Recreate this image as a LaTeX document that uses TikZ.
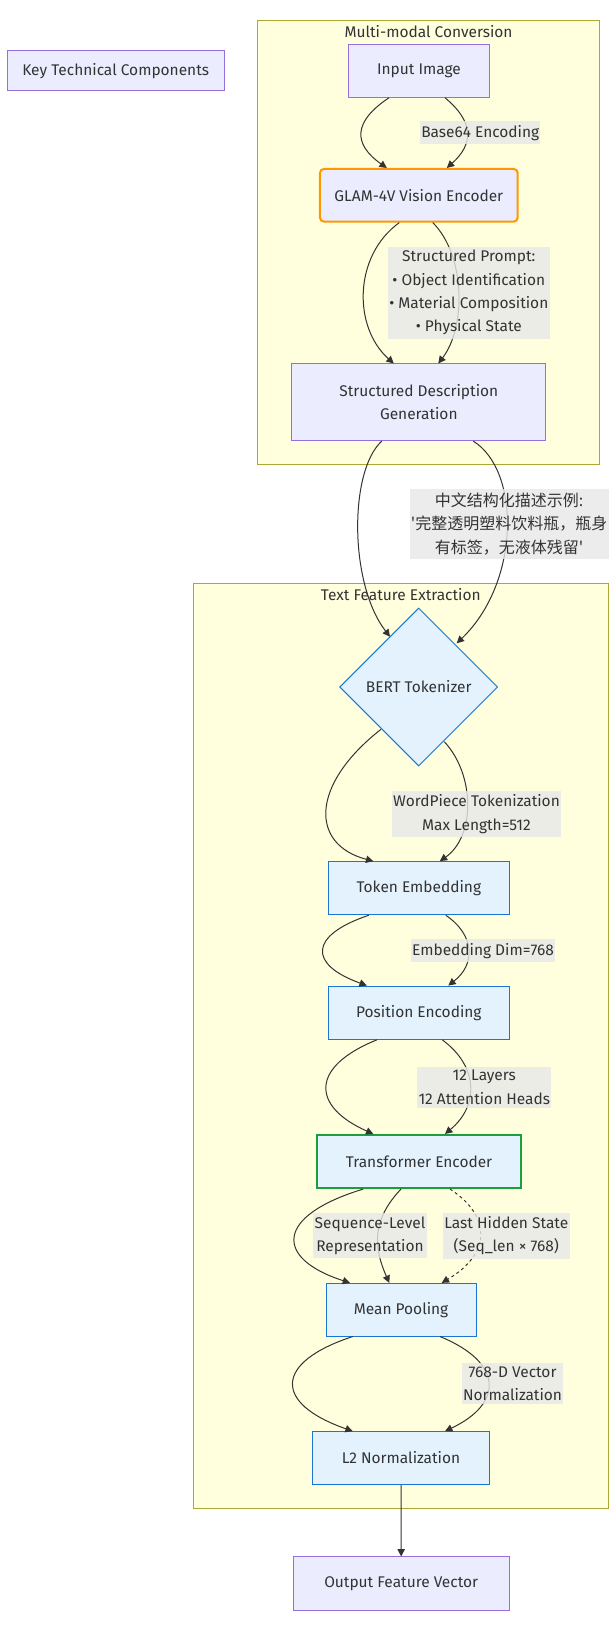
\documentclass[tikz,border=0pt]{standalone}
\usepackage{fontspec}
\setmainfont{Fira Sans}
\newfontfamily\cjk{Noto Sans CJK SC}
\usetikzlibrary{shapes.geometric,arrows.meta,calc}
\definecolor{txt}{HTML}{333333}
\definecolor{nodefill}{HTML}{ECECFF}
\definecolor{nodeline}{HTML}{9370DB}
\definecolor{bluefill}{HTML}{E3F2FD}
\definecolor{blueline}{HTML}{1976D2}
\definecolor{clusterfill}{HTML}{FFFFDE}
\definecolor{clusterline}{HTML}{AAAA33}
\definecolor{labelfill}{HTML}{E8E8E8}
\definecolor{orangeline}{HTML}{FF9800}
\definecolor{greenline}{HTML}{1B9E3E}
\tikzset{
  every node/.style={text=txt, font=\fontsize{11.6}{17.5}\selectfont},
  box/.style={draw=nodeline, fill=nodefill, line width=0.75pt, inner sep=0pt, align=center},
  bluebox/.style={box, draw=blueline, fill=bluefill},
  decision/.style={bluebox, diamond, aspect=1, minimum width=118.5pt, minimum height=118.5pt},
  cluster/.style={draw=clusterline, fill=clusterfill, line width=0.75pt, inner sep=0pt},
  edgelabel/.style={fill=labelfill, fill opacity=0.8, text opacity=1, align=center, inner xsep=1pt, inner ysep=2.75pt},
  flow/.style={draw=txt, line width=0.75pt, -{Triangle[length=5.5pt,width=5.5pt]}},
}
\begin{document}
\begin{tikzpicture}[x=0.75pt,y=-0.75pt]
\fill[white] (0,0) rectangle (616,1630);
\useasboundingbox (0,0) rectangle (616,1630);
\node (mmc) [cluster, minimum width=256.2pt, minimum height=333.2pt] at (428.5,242.2) {};
\node (mmctitle) at ($(mmc.north)+(0,11.7)$) {Multi-modal Conversion};
\node (tfe) [cluster, minimum width=311.3pt, minimum height=693.8pt] at (400.8,1045.8) {};
\node (tfetitle) at ($(tfe.north)+(0,11.4)$) {Text Feature Extraction};
\node (key) [box, minimum width=162.5pt, minimum height=29.8pt] at (115.7,70.8) {Key Technical Components};
\node (in) [box, minimum width=105.8pt, minimum height=39.8pt] at (419,70.7) {Input Image};
\node (glam) [box, draw=orangeline, line width=1.5pt, rounded corners=3pt, minimum width=148.3pt, minimum height=39.5pt] at (418.8,195.3) {GLAM-4V Vision Encoder};
\node (sdg) [box, minimum width=190.5pt, minimum height=57.5pt] at (418.8,402.3) {Structured Description\\Generation};
\node (bert) [decision] at (418.7,687) {BERT Tokenizer};
\node (tok) [bluebox, minimum width=135.8pt, minimum height=39.8pt] at (418.8,888.2) {Token Embedding};
\node (pos) [bluebox, minimum width=135.8pt, minimum height=40pt] at (418.8,1012.7) {Position Encoding};
\node (trf) [bluebox, draw=greenline, line width=1.5pt, minimum width=153.5pt, minimum height=39.8pt] at (419,1161.5) {Transformer Encoder};
\node (pool) [bluebox, minimum width=112.5pt, minimum height=39.5pt] at (401,1309.7) {Mean Pooling};
\node (l2) [bluebox, minimum width=133pt, minimum height=39.5pt] at (401,1458) {L2 Normalization};
\node (out) [box, minimum width=162.2pt, minimum height=39.8pt] at (401.2,1583.5) {Output Feature Vector};
\draw[flow] ($(in.south)+(-30,0)$) .. controls +(-36,24) and +(-34,-24) .. ($(glam.north)+(-32,0)$);
\draw[flow] ($(in.south)+(26,0)$) .. controls +(29,24) and +(27,-24) .. ($(glam.north)+(28,0)$);
\draw[flow] ($(glam.south)+(-19.5,0)$) .. controls +(-46.2,33.3) and +(-40.7,-36) .. ($(sdg.north)+(-25,0)$);
\draw[flow] ($(glam.south)+(14,0)$) .. controls +(33.1,33.3) and +(27.6,-36) .. ($(sdg.north)+(19.5,0)$);
\draw[flow] ($(sdg.south)+(-37,0)$) .. controls +(-32.8,29.4) and +(-41,-52.7) .. ($(bert.center)+(-28.7,-50.3)$);
\draw[flow] ($(sdg.south)+(54.5,0)$) .. controls +(47.3,29.4) and +(63.9,-61.3) .. ($(bert.center)+(38,-43.7)$);
\draw[flow] ($(bert.center)+(-37.7,42.3)$) .. controls +(-71,55.7) and +(-63.3,-16.7) .. ($(tok.north)+(-45.5,0)$);
\draw[flow] ($(bert.center)+(25.6,54.7)$) .. controls +(31,33.3) and +(35.5,-24.7) .. ($(tok.north)+(21,0)$);
\draw[flow] ($(tok.south)+(-50,0)$) .. controls +(-60.3,20.3) and +(-58.3,-21) .. ($(pos.north)+(-52,0)$);
\draw[flow] ($(tok.south)+(27,0)$) .. controls +(29.6,20.3) and +(27.1,-21) .. ($(pos.north)+(29.5,0)$);
\draw[flow] ($(pos.south)+(-42,0)$) .. controls +(-66.2,26.7) and +(-62.7,-28) .. ($(trf.north)+(-45.7,0)$);
\draw[flow] ($(pos.south)+(23.5,0)$) .. controls +(36.5,26.7) and +(33.8,-28) .. ($(trf.north)+(26,0)$);
\draw[flow] ($(trf.south)+(-55.7,0)$) .. controls +(-88.9,27) and +(-75.6,-24.4) .. ($(pool.north)+(-51,0)$);
\draw[flow] ($(trf.south)+(-18,0)$) .. controls +(-28.3,30) and +(-16.6,-37.4) .. ($(pool.north)+(-11.7,0)$);
\draw[flow, dash pattern=on 2.25pt off 2.25pt] ($(trf.south)+(31,0)$) .. controls +(41.4,27) and +(49.7,-29.4) .. ($(pool.north)+(40.7,0)$);
\draw[flow] ($(pool.south)+(-48.3,0)$) .. controls +(-79.2,26) and +(-79.2,-27.7) .. ($(l2.north)+(-48.3,0)$);
\draw[flow] ($(pool.south)+(39,0)$) .. controls +(63.6,26) and +(58.6,-27.7) .. ($(l2.north)+(44,0)$);
\draw[flow] (l2) -- (out);
\node (base64) [edgelabel] at (480.2,132.7) {Base64 Encoding};
\node (prompt) [edgelabel] at (468.8,292.7) {Structured Prompt:\\• Object Identification\\• Material Composition\\• Physical State};
\node (zhdesc) [edgelabel, font=\cjk\fontsize{12}{17.5}\selectfont] at (509.2,524) {中文结构化描述示例:\\'完整透明塑料饮料瓶，瓶身\\有标签，无液体残留'};
\node (wordpiece) [edgelabel] at (476.5,814) {WordPiece Tokenization\\Max Length=512};
\node (embdim) [edgelabel] at (483,950.7) {Embedding Dim=768};
\node (layers) [edgelabel] at (484.3,1087.3) {12 Layers\\12 Attention Heads};
\node (seqlevel) [edgelabel] at (370,1235.7) {Sequence-Level\\Representation};
\node (lasthidden) [edgelabel] at (506.3,1235.7) {Last Hidden State\\(Seq\_len × 768)};
\node (vec768) [edgelabel] at (512.5,1383.5) {768-D Vector\\Normalization};
\end{tikzpicture}
\end{document}
